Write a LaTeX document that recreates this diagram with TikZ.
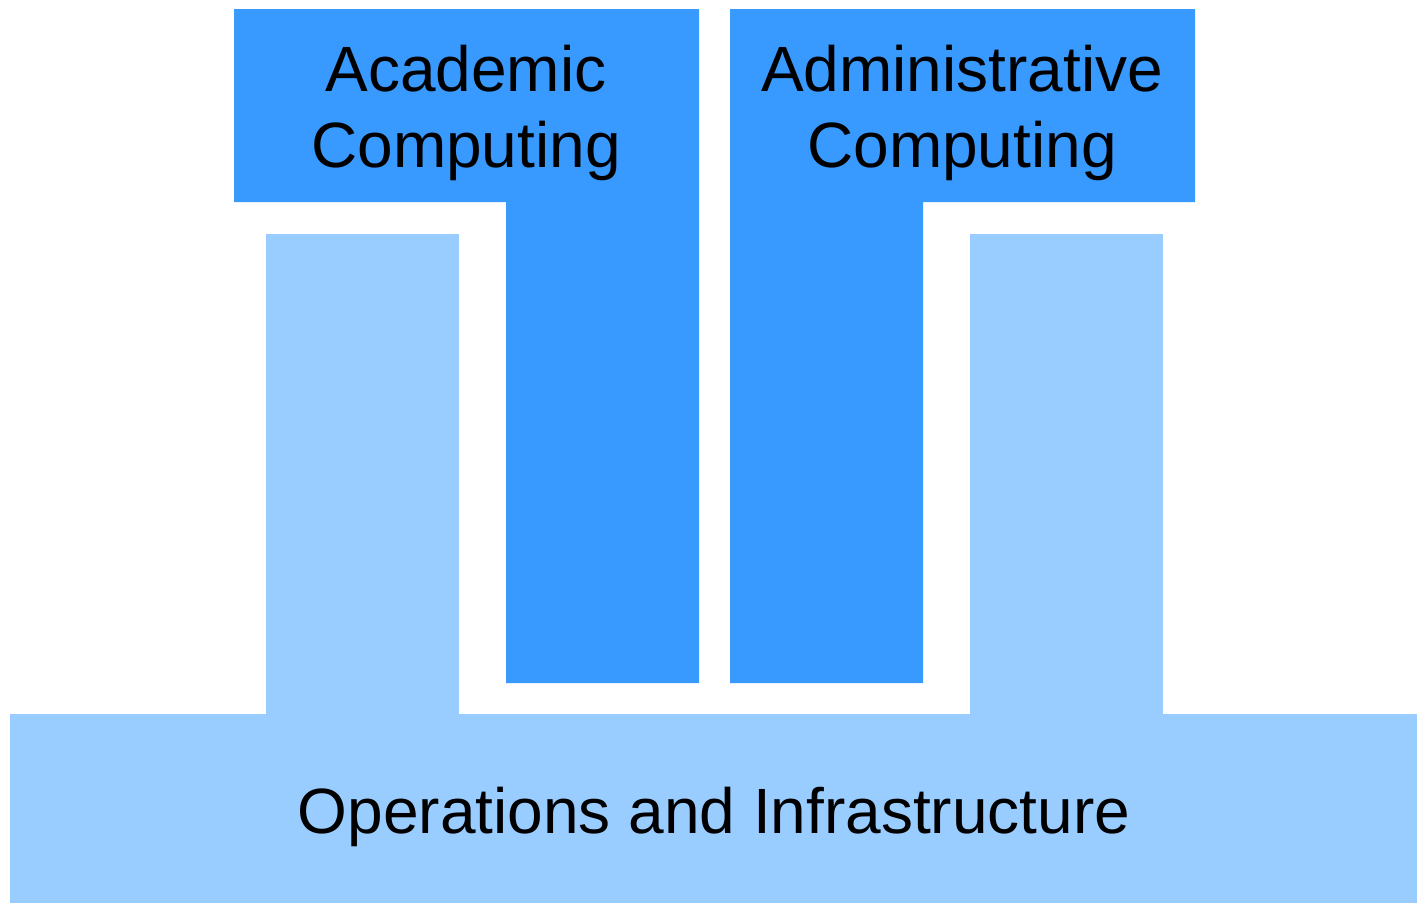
\documentclass[tikz,border=0pt]{standalone}
\usepackage{fontspec}
\setmainfont{Liberation Sans}
\definecolor{deepblue}{HTML}{3899FF}
\definecolor{paleblue}{HTML}{99CCFF}
\begin{document}
\begin{tikzpicture}[x=1pt,y=-1pt,
  darkpart/.style={fill=deepblue},
  lightpart/.style={fill=paleblue},
  label/.style={inner sep=0pt,align=center,text=black,
    font=\fontsize{64}{76}\selectfont}]
\useasboundingbox (0,0) rectangle (1417,903);
% operations base and its two pillars
\fill[lightpart] (10,714) rectangle (1417,903);
\fill[lightpart] (266,234) rectangle (459,714);
\fill[lightpart] (970,234) rectangle (1163,714);
% academic computing (T with stem on the right)
\fill[darkpart] (234,9) -- (699,9) -- (699,683) -- (506,683) -- (506,202) -- (234,202) -- cycle;
% administrative computing (T with stem on the left)
\fill[darkpart] (730,9) -- (1195,9) -- (1195,202) -- (923,202) -- (923,683) -- (730,683) -- cycle;
% labels
\node[label] (academic) at (466,113) {Academic\\Computing};
\node[label] (admin) at (962,113) {Administrative\\Computing};
\node[label] (ops) at (714,817) {Operations and Infrastructure};
\end{tikzpicture}
\end{document}
